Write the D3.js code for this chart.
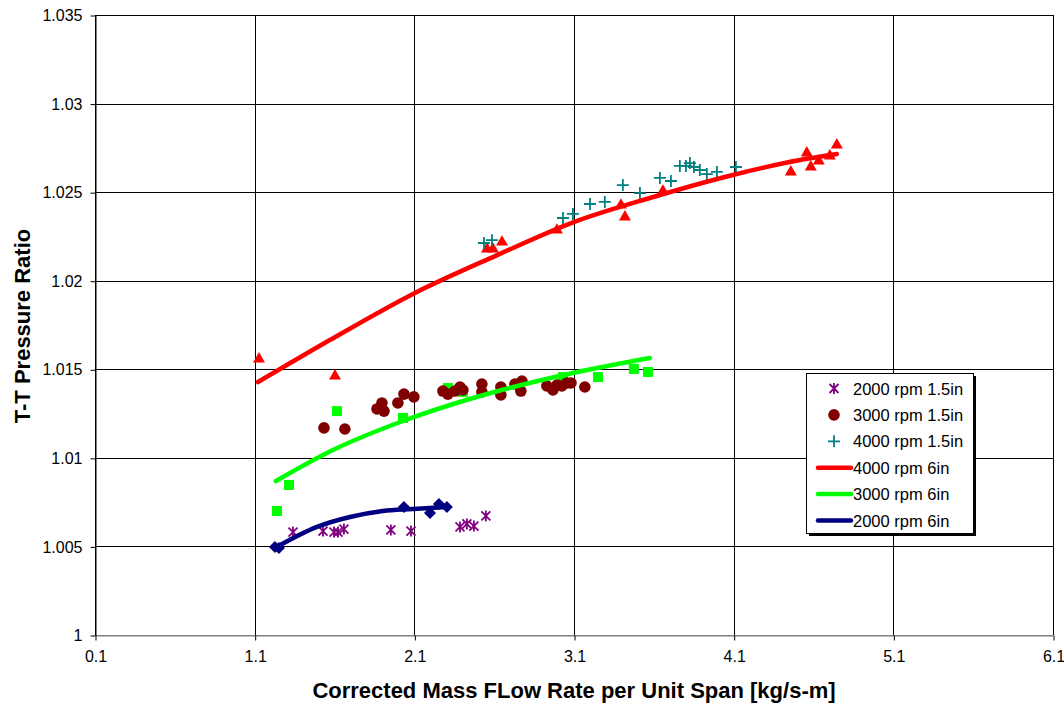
<!DOCTYPE html>
<html>
<head>
<meta charset="utf-8">
<script src="https://cdn.jsdelivr.net/npm/d3@7"></script>
<style>
  body { margin: 0; background: #fff; }
  text { font-family: "Liberation Sans", Arial, sans-serif; }
  .tick text { font-size: 16px; }
</style>
</head>
<body>
<svg id="main-svg"></svg>
<script>
// ---- data ----
const xTicks = [0.1, 1.1, 2.1, 3.1, 4.1, 5.1, 6.1];
const yTicks = [1, 1.005, 1.01, 1.015, 1.02, 1.025, 1.03, 1.035];

// 2000 rpm 1.5in (asterisks)
const rpm2000Small = [
  [1.340, 1.00581], [1.528, 1.00587], [1.597, 1.00581], [1.622, 1.00581],
  [1.659, 1.00598], [1.953, 1.00593], [2.079, 1.00587], [2.386, 1.00610],
  [2.429, 1.00627], [2.473, 1.00615], [2.548, 1.00672]
];
// 3000 rpm 1.5in (circles)
const rpm3000Small = [
  [1.534, 1.01169], [1.665, 1.01163], [1.866, 1.01276], [1.897, 1.01310],
  [1.910, 1.01264], [1.997, 1.01310], [2.035, 1.01360], [2.097, 1.01344],
  [2.279, 1.01377], [2.310, 1.01360], [2.354, 1.01377], [2.386, 1.01400],
  [2.404, 1.01383], [2.523, 1.01417], [2.523, 1.01372], [2.642, 1.01400],
  [2.642, 1.01355], [2.730, 1.01417], [2.774, 1.01434], [2.767, 1.01377],
  [2.930, 1.01406], [2.968, 1.01383], [2.993, 1.01411], [3.024, 1.01406],
  [3.056, 1.01423], [3.081, 1.01423], [3.168, 1.01400]
];
// 4000 rpm 1.5in (plus)
const rpm4000Small = [
  [2.536, 1.02213], [2.586, 1.02229], [3.031, 1.02354], [3.093, 1.02377],
  [3.200, 1.02433], [3.293, 1.02445], [3.406, 1.02540], [3.513, 1.02495],
  [3.638, 1.02580], [3.707, 1.02563], [3.763, 1.02648], [3.801, 1.02648],
  [3.826, 1.02664], [3.851, 1.02642], [3.888, 1.02625], [3.932, 1.02602],
  [3.995, 1.02614], [4.114, 1.02642]
];

// 6in measured points
const rpm4000Big = [
  [1.127, 1.01558], [1.603, 1.01462], [2.555, 1.02179], [2.592, 1.02179],
  [2.649, 1.02218], [2.993, 1.02286], [3.394, 1.02427], [3.419, 1.02360],
  [3.657, 1.02506], [4.458, 1.02614], [4.558, 1.02721], [4.583, 1.02642],
  [4.633, 1.02676], [4.702, 1.02704], [4.746, 1.02766]
];
const rpm3000Big = [
  [1.240, 1.00700], [1.315, 1.00847], [1.615, 1.01264], [2.029, 1.01225],
  [2.310, 1.01394], [2.404, 1.01372], [3.031, 1.01456], [3.250, 1.01456],
  [3.475, 1.01502], [3.563, 1.01485]
];
const rpm2000Big = [
  [1.227, 1.00497], [1.252, 1.00491], [2.035, 1.00723], [2.198, 1.00689],
  [2.254, 1.00740], [2.304, 1.00723]
];

// 6in fitted curves
const fit4000 = [
  [1.121, 1.01428], [1.571, 1.01665], [2.104, 1.01931], [2.605, 1.02139],
  [3.099, 1.02331], [3.575, 1.02467], [4.095, 1.02597], [4.515, 1.02681],
  [4.746, 1.02715]
];
const fit3000 = [
  [1.233, 1.00869], [1.590, 1.01044], [2.029, 1.01208], [2.511, 1.01349],
  [3.093, 1.01479], [3.575, 1.01564]
];
const fit2000 = [
  [1.227, 1.00491], [1.490, 1.00610], [1.697, 1.00666], [1.903, 1.00700],
  [2.091, 1.00711], [2.304, 1.00723]
];

const legendItems = [
  {label: "2000 rpm 1.5in", kind: "star", color: "#800080"},
  {label: "3000 rpm 1.5in", kind: "circle", color: "#800000"},
  {label: "4000 rpm 1.5in", kind: "plus", color: "#008080"},
  {label: "4000 rpm 6in", kind: "line", color: "#ff0000"},
  {label: "3000 rpm 6in", kind: "line", color: "#00ff00"},
  {label: "2000 rpm 6in", kind: "line", color: "#000080"}
];

// ---- chart ----
let width = 1064, height = 706;
let svg = d3.select('#main-svg').attr('width', width).attr('height', height);

let x = d3.scaleLinear().domain([0.1, 6.1]).range([95, 1053]);
let y = d3.scaleLinear().domain([1, 1.035]).range([635, 15]);

// grid
let grid = svg.append('g');
grid.selectAll('.vgrid').data(xTicks).enter().append('line')
  .attr('x1', d => Math.round(x(d)) + 0.5).attr('x2', d => Math.round(x(d)) + 0.5)
  .attr('y1', y(1.035)).attr('y2', y(1))
  .attr('stroke', '#000').attr('stroke-width', 1);
grid.selectAll('.hgrid').data(yTicks).enter().append('line')
  .attr('y1', d => Math.round(y(d)) + 0.5).attr('y2', d => Math.round(y(d)) + 0.5)
  .attr('x1', x(0.1)).attr('x2', x(6.1))
  .attr('stroke', d => d === 1 ? '#808080' : '#000').attr('stroke-width', 1);

// axes
let fmt = d => String(+d.toFixed(3));
let yAxis = svg.append('g').attr('transform', 'translate(95.5,0.5)')
  .call(d3.axisLeft(y).tickValues(yTicks).tickFormat(fmt).tickSize(5).tickSizeOuter(0).tickPadding(8));
let xAxis = svg.append('g').attr('transform', 'translate(0.5,635.5)')
  .call(d3.axisBottom(x).tickValues(xTicks).tickFormat(fmt).tickSize(5).tickSizeOuter(0).tickPadding(10));
[yAxis, xAxis].forEach(a => {
  a.attr('font-size', null).attr('font-family', null);
  a.select('.domain').attr('stroke', '#000');
  a.selectAll('line').attr('stroke', '#000');
  a.selectAll('text').attr('fill', '#000');
});
xAxis.select('.domain').attr('stroke', '#808080');

svg.append('text')
  .attr('transform', 'translate(30,326) rotate(-90)')
  .attr('text-anchor', 'middle')
  .attr('font-size', 22).attr('font-weight', 'bold')
  .text('T-T Pressure Ratio');
svg.append('text')
  .attr('x', 574).attr('y', 698)
  .attr('text-anchor', 'middle')
  .attr('font-size', 22).attr('font-weight', 'bold')
  .text('Corrected Mass FLow Rate per Unit Span [kg/s-m]');

// marker helpers
function drawMarker(g, kind, color) {
  if (kind === 'triangle') {
    g.append('path').attr('d', d3.symbol(d3.symbolTriangle, 62)()).attr('fill', color);
  } else if (kind === 'square') {
    g.append('rect').attr('x', -5).attr('y', -5).attr('width', 10).attr('height', 10).attr('fill', color);
  } else if (kind === 'diamond') {
    g.append('path').attr('d', 'M0,-6L6,0L0,6L-6,0Z').attr('fill', color);
  } else if (kind === 'circle') {
    g.append('circle').attr('r', 5.8).attr('fill', color);
  } else if (kind === 'plus') {
    g.append('path').attr('d', 'M-6,0H6M0,-6V6')
      .attr('stroke', color).attr('stroke-width', 1.8).attr('fill', 'none');
  } else if (kind === 'star') {
    g.append('path').attr('d', 'M-4.5,-4.5L4.5,4.5M-4.5,4.5L4.5,-4.5M0,-5.5V5.5')
      .attr('stroke', color).attr('stroke-width', 1.8).attr('fill', 'none');
  }
}

function drawSeries(data, kind, color) {
  svg.append('g').selectAll('g').data(data).enter().append('g')
    .attr('transform', d => `translate(${x(d[0])},${y(d[1])})`)
    .each(function () { drawMarker(d3.select(this), kind, color); });
}

drawSeries(rpm4000Big, 'triangle', '#ff0000');
drawSeries(rpm3000Big, 'square', '#00ff00');
drawSeries(rpm2000Big, 'diamond', '#000080');
drawSeries(rpm2000Small, 'star', '#800080');
drawSeries(rpm3000Small, 'circle', '#800000');
drawSeries(rpm4000Small, 'plus', '#008080');

let line = d3.line().x(d => x(d[0])).y(d => y(d[1])).curve(d3.curveMonotoneX);
[[fit4000, '#ff0000'], [fit3000, '#00ff00'], [fit2000, '#000080']].forEach(([d, c]) => {
  svg.append('path').datum(d).attr('d', line)
    .attr('fill', 'none').attr('stroke', c).attr('stroke-width', 4.5)
    .attr('stroke-linecap', 'round');
});

// legend
let lg = svg.append('g').attr('transform', 'translate(806,373)');
lg.append('rect').attr('x', 3).attr('y', 3).attr('width', 167).attr('height', 160).attr('fill', '#000');
lg.append('rect').attr('x', 0.5).attr('y', 0.5).attr('width', 167).attr('height', 160)
  .attr('fill', '#fff').attr('stroke', '#000').attr('stroke-width', 1);
legendItems.forEach((item, i) => {
  let row = lg.append('g').attr('transform', `translate(0,${15.5 + i * 26.4})`);
  if (item.kind === 'line') {
    row.append('line').attr('x1', 12).attr('x2', 45).attr('y1', 0).attr('y2', 0)
      .attr('stroke', item.color).attr('stroke-width', 4.5).attr('stroke-linecap', 'round');
  } else {
    let m = row.append('g').attr('transform', 'translate(28,0)');
    drawMarker(m, item.kind, item.color);
  }
  row.append('text').attr('x', 47).attr('y', 6).attr('font-size', 16.5).attr('fill', '#000').text(item.label);
});
</script>
</body>
</html>
